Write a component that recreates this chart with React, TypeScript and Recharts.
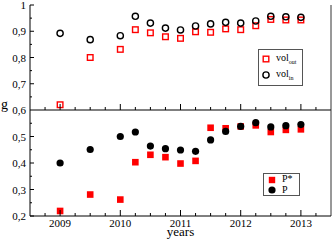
import { ScatterChart, Scatter, XAxis, YAxis, Legend, ReferenceLine } from "recharts";

const years = [2009, 2009.5, 2010, 2010.25, 2010.5, 2010.75, 2011, 2011.25, 2011.5, 2011.75, 2012, 2012.25, 2012.5, 2012.75, 2013];
const volOut = [0.62, 0.8, 0.831, 0.906, 0.894, 0.879, 0.873, 0.898, 0.896, 0.909, 0.906, 0.921, 0.945, 0.943, 0.943];
const volIn = [0.892, 0.868, 0.883, 0.957, 0.931, 0.912, 0.905, 0.92, 0.928, 0.934, 0.931, 0.939, 0.957, 0.955, 0.953];
const pStar = [0.219, 0.281, 0.262, 0.403, 0.431, 0.422, 0.398, 0.408, 0.533, 0.531, 0.538, 0.542, 0.517, 0.525, 0.527];
const pVals = [0.4, 0.451, 0.5, 0.517, 0.464, 0.454, 0.449, 0.444, 0.487, 0.519, 0.538, 0.552, 0.536, 0.541, 0.545];

const xDomain = [2008.5, 2013.5];
const xTicks = [2008.75, 2009, 2009.25, 2009.5, 2009.75, 2010, 2010.25, 2010.5, 2010.75, 2011, 2011.25, 2011.5, 2011.75, 2012, 2012.25, 2012.5, 2012.75, 2013, 2013.25];
const yearValues = [2009, 2010, 2011, 2012, 2013];
const yearLabels = ["2009", "2010", "2011", "2012", "2013"];

const topDomain = [0.6, 1];
const topTicks = [0.65, 0.7, 0.75, 0.8, 0.85, 0.9, 0.95, 1];
const topMajor = [0.7, 0.8, 0.9, 1];
const topLabels = ["0,7", "0,8", "0,9", "1"];

const botDomain = [0.2, 0.6];
const botTicks = [0.2, 0.25, 0.3, 0.35, 0.4, 0.45, 0.5, 0.55];
const botMajor = [0.2, 0.3, 0.4, 0.5];
const botLabels = ["0,2", "0,3", "0,4", "0,5"];
const sharedLabel = "0,6";

const RED = "#ff0000";
const FONT = "'Liberation Serif', 'DejaVu Serif', serif";

const topOut = years.map((x, i) => ({ x, y: volOut[i] }));
const topIn = years.map((x, i) => ({ x, y: volIn[i] }));
const botStar = years.map((x, i) => ({ x, y: pStar[i] }));
const botP = years.map((x, i) => ({ x, y: pVals[i] }));

const idx = (arr: number[], v: number) => arr.findIndex((a) => Math.abs(a - v) < 1e-6);

// x ticks: drawn inward, major ones longer
const XTick = (props: any) => {
  const { x, y, payload, dir, showLabel } = props;
  const i = idx(yearValues, payload.value);
  const len = i >= 0 ? 6 : 3;
  return (
    <g>
      <line x1={x} x2={x} y1={y} y2={y + dir * len} stroke="#000" />
      {showLabel && i >= 0 && (
        <text x={x} y={y + 11} textAnchor="middle" fontSize={11} fontFamily={FONT} fill="#000">
          {yearLabels[i]}
        </text>
      )}
    </g>
  );
};

const YTick = (props: any) => {
  const { x, y, payload, major, labels } = props;
  const i = idx(major, payload.value);
  const len = i >= 0 ? 4 : 2;
  return (
    <g>
      <line x1={x} x2={x + len} y1={y} y2={y} stroke="#000" />
      {i >= 0 && labels[i] && (
        <text x={x - 4} y={y + 4} textAnchor="end" fontSize={11} fontFamily={FONT} fill="#000">
          {labels[i]}
        </text>
      )}
    </g>
  );
};

const hollowSquare = (p: any) => (
  <rect x={p.cx - 2.8} y={p.cy - 2.8} width={5.6} height={5.6} fill="none" stroke={RED} strokeWidth={1.4} />
);
const hollowCircle = (p: any) => <circle cx={p.cx} cy={p.cy} r={3.1} fill="none" stroke="#000" strokeWidth={1.4} />;
const filledSquare = (p: any) => <rect x={p.cx - 3.3} y={p.cy - 3.3} width={6.6} height={6.6} fill={RED} />;
const filledCircle = (p: any) => <circle cx={p.cx} cy={p.cy} r={3.6} fill="#000" />;

const Icon = ({ kind }: { kind: string }) => (
  <svg width={10} height={10} style={{ verticalAlign: "middle", marginRight: 5 }}>
    {kind === "hs" && <rect x={2.2} y={2.2} width={5.6} height={5.6} fill="none" stroke={RED} strokeWidth={1.4} />}
    {kind === "hc" && <circle cx={5} cy={5} r={3.1} fill="none" stroke="#000" strokeWidth={1.4} />}
    {kind === "fs" && <rect x={1.8} y={1.8} width={6.4} height={6.4} fill={RED} />}
    {kind === "fc" && <circle cx={5} cy={5} r={3.6} fill="#000" />}
  </svg>
);

const boxStyle = {
  border: "1px solid #555",
  background: "#fff",
  fontFamily: FONT,
  fontSize: 10,
  lineHeight: "12px",
  color: "#000",
};

const TopLegend = () => (
  <div style={{ ...boxStyle, padding: "2px 6px 1px 2px" }}>
    <div><Icon kind="hs" />vol<sub style={{ fontSize: 6 }}>out</sub></div>
    <div><Icon kind="hc" />vol<sub style={{ fontSize: 6 }}>in</sub></div>
  </div>
);

const BotLegend = () => (
  <div style={{ ...boxStyle, padding: "0px 6px 0px 3px", lineHeight: "9px" }}>
    <div><Icon kind="fs" />P*</div>
    <div><Icon kind="fc" />P</div>
  </div>
);

export default function App() {
  return (
    <div style={{ position: "absolute", left: 0, top: 0, width: 332, height: 240, background: "#fff" }}>
      <div style={{ position: "absolute", left: 0, top: 0 }}>
        <ScatterChart width={332} height={112} margin={{ top: 5, right: 1, bottom: 0, left: 0 }}>
          <XAxis
            type="number"
            dataKey="x"
            domain={xDomain}
            ticks={xTicks}
            allowDataOverflow
            height={2}
            tickSize={0}
            tickMargin={0}
            interval={0}
            stroke="#000"
            tick={(p: any) => <XTick {...p} dir={-1} />}
          />
          <XAxis
            xAxisId="top"
            orientation="top"
            type="number"
            domain={xDomain}
            ticks={xTicks}
            allowDataOverflow
            height={0}
            tickSize={0}
            tickMargin={0}
            interval={0}
            stroke="#000"
            tick={(p: any) => <XTick {...p} dir={1} />}
          />
          <YAxis
            type="number"
            dataKey="y"
            domain={topDomain}
            ticks={topTicks}
            allowDataOverflow
            width={30}
            tickSize={0}
            tickMargin={0}
            interval={0}
            stroke="#000"
            tick={(p: any) => <YTick {...p} major={topMajor} labels={topLabels} />}
          />
          <ReferenceLine x={xDomain[1]} stroke="#333" />
          <Scatter data={topOut} shape={hollowSquare} isAnimationActive={false} />
          <Scatter data={topIn} shape={hollowCircle} isAnimationActive={false} />
          <Legend
            content={() => <TopLegend />}
            layout="horizontal"
            verticalAlign="middle"
            align="center"
            wrapperStyle={{ position: "absolute", left: 258, top: 49, width: "auto", height: "auto" }}
          />
        </ScatterChart>
      </div>
      <div style={{ position: "absolute", left: 0, top: 100 }}>
        <ScatterChart width={332} height={140} margin={{ top: 10, right: 1, bottom: 0, left: 0 }}>
          <XAxis
            type="number"
            dataKey="x"
            domain={xDomain}
            ticks={xTicks}
            allowDataOverflow
            height={24}
            tickSize={0}
            tickMargin={0}
            interval={0}
            stroke="#000"
            tick={(p: any) => <XTick {...p} dir={-1} showLabel />}
            label={{ value: "years", position: "insideBottom", offset: 4, fontSize: 13, fontFamily: FONT, fill: "#000" }}
          />
          <XAxis
            xAxisId="top"
            orientation="top"
            type="number"
            domain={xDomain}
            ticks={xTicks}
            allowDataOverflow
            height={0}
            tickSize={0}
            tickMargin={0}
            interval={0}
            stroke="#000"
            tick={(p: any) => <XTick {...p} dir={1} />}
          />
          <YAxis
            type="number"
            dataKey="y"
            domain={botDomain}
            ticks={botTicks}
            allowDataOverflow
            width={30}
            tickSize={0}
            tickMargin={0}
            interval={0}
            stroke="#000"
            tick={(p: any) => <YTick {...p} major={botMajor} labels={botLabels} />}
          />
          <ReferenceLine x={xDomain[1]} stroke="#333" />
          <Scatter data={botStar} shape={filledSquare} isAnimationActive={false} />
          <Scatter data={botP} shape={filledCircle} isAnimationActive={false} />
          <Legend
            content={() => <BotLegend />}
            layout="horizontal"
            verticalAlign="middle"
            align="center"
            wrapperStyle={{ position: "absolute", left: 263, top: 73, width: "auto", height: "auto" }}
          />
        </ScatterChart>
      </div>
      {/* shared y label and the 0,6 tick label on the panel boundary */}
      <div style={{ position: "absolute", left: 1, top: 98, fontFamily: FONT, fontSize: 14, lineHeight: "14px", color: "#000" }}>g</div>
      <div style={{ position: "absolute", left: 0, top: 105, width: 26, textAlign: "right", fontFamily: FONT, fontSize: 11, lineHeight: "11px", color: "#000" }}>
        {sharedLabel}
      </div>
    </div>
  );
}
